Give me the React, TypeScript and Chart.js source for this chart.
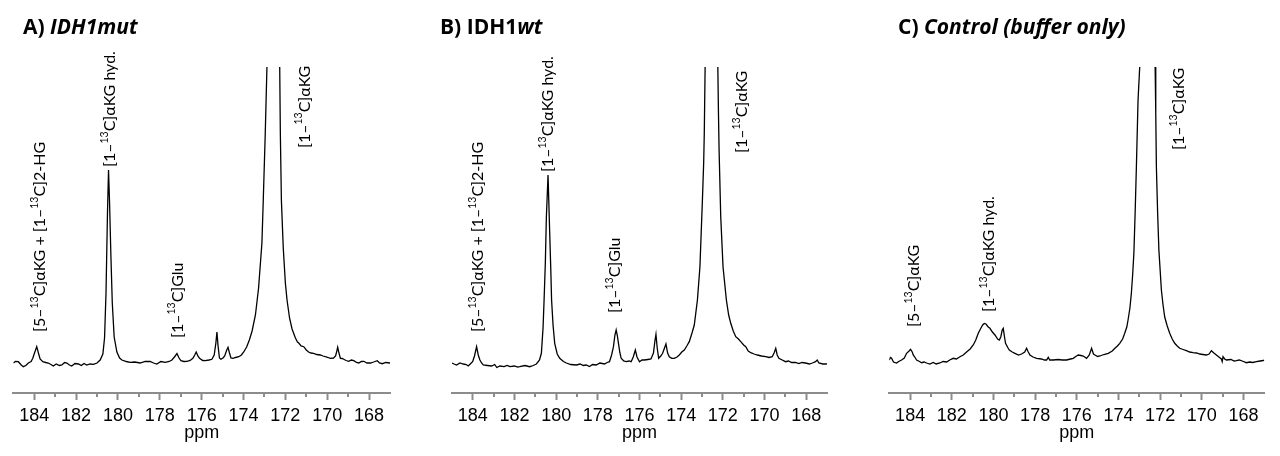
import React, { useEffect, useRef } from 'react';
import { Chart, registerables } from 'chart.js';

Chart.register(...registerables);

// ---- axis ----
const X_MIN = 167;
const X_MAX = 185;
const Y_MIN = -30;
const Y_MAX = 296;
const MINOR_TICKS = [169, 171, 173, 175, 177, 179, 181, 183];

// ---- spectra: [ppm, intensity] ----
const spectrumA: [number, number][] = [
  [185.0, 0], [184.9, 1.5], [184.76, 1.3], [184.62, -2], [184.52, -3.7], [184.4, -2.5], [184.28, 0], [184.15, 1.5],
  [184.07, 4.7], [183.97, 11], [183.88, 16.3], [183.8, 10], [183.72, 4], [183.59, 1.3], [183.45, 0.5], [183.33, 0],
  [183.2, -1.5], [183.09, -3], [182.95, -1], [182.8, -2.5], [182.68, -2], [182.55, 0.5], [182.44, 0], [182.32, -2],
  [182.21, -3], [182.05, -0.5], [181.89, -1], [181.75, -2.5], [181.62, -0.5], [181.49, -2], [181.33, -1], [181.17, -1.3],
  [181.0, 0], [180.85, 3], [180.72, 9], [180.64, 25], [180.57, 70], [180.5, 150], [180.45, 193], [180.4, 160],
  [180.34, 110], [180.27, 60], [180.18, 26], [180.05, 11], [179.92, 5], [179.81, 3], [179.6, 1.5], [179.42, 0.7],
  [179.2, 1], [178.94, 0], [178.7, 1.5], [178.46, 1.7], [178.3, 0], [178.14, -1], [177.95, 1.5], [177.74, 0.7],
  [177.55, 1.5], [177.42, 3], [177.3, 6], [177.18, 9.5], [177.08, 5], [176.99, 2.3], [176.85, 1.5], [176.7, 1.7],
  [176.55, 2.5], [176.42, 4.7], [176.33, 8], [176.26, 11], [176.18, 7], [176.1, 4.7], [175.95, 2.5], [175.83, 2.3],
  [175.65, 3], [175.51, 3.7], [175.4, 8], [175.32, 20], [175.27, 31], [175.22, 18], [175.15, 5], [175.08, 3.7],
  [174.98, 5], [174.9, 7], [174.8, 13], [174.74, 15.7], [174.67, 10], [174.6, 5], [174.5, 4.7], [174.38, 5.5],
  [174.23, 6.3], [174.1, 8], [173.99, 11], [173.85, 16], [173.72, 23], [173.59, 32], [173.43, 48], [173.28, 75],
  [173.12, 120], [173.06, 160], [172.96, 230], [172.88, 296], [172.8, 400], [172.57, 1400], [172.32, 380], [172.27, 296],
  [172.24, 230], [172.19, 163], [172.1, 115], [172.0, 80], [171.92, 63], [171.8, 45], [171.68, 34], [171.52, 25],
  [171.42, 21], [171.36, 20], [171.25, 17], [171.12, 16.3], [171.0, 13], [170.89, 11], [170.78, 10], [170.65, 9.7],
  [170.5, 8.5], [170.33, 8], [170.2, 7], [170.09, 6.3], [169.95, 5.5], [169.85, 4.7], [169.7, 5], [169.6, 7],
  [169.54, 12], [169.5, 15.7], [169.45, 11], [169.37, 4.7], [169.28, 4.5], [169.21, 3.7], [169.1, 2.5], [168.97, 1.7],
  [168.85, 3], [168.73, 2.3], [168.6, 0.5], [168.49, 0], [168.37, 1.5], [168.25, 1.7], [168.1, 0], [167.93, 0],
  [167.78, 1], [167.61, 2.3], [167.5, 0], [167.37, -0.7], [167.2, 0.5], [167.0, 0],
];

const spectrumB: [number, number][] = [
  [185.0, 0], [184.9, -1], [184.78, -2], [184.62, 0], [184.46, -1], [184.32, -1.5], [184.22, -3], [184.1, -0.5],
  [184.01, 1.3], [183.92, 7], [183.82, 16.3], [183.74, 8], [183.66, 3], [183.58, 0], [183.5, -2], [183.3, -2.5],
  [183.1, -3], [182.95, -1.5], [182.85, -4.5], [182.7, -3], [182.5, -3.7], [182.35, -2.5], [182.22, -3.7], [182.0, -3],
  [181.85, -4], [181.75, -3.7], [181.5, -2.5], [181.27, -3.7], [181.1, -2.5], [180.95, -1], [180.8, 3], [180.71, 9.7],
  [180.63, 35], [180.58, 63], [180.52, 100], [180.47, 146], [180.39, 188], [180.31, 130], [180.26, 95], [180.22, 63],
  [180.15, 38], [180.07, 19.7], [179.95, 9], [179.83, 4.7], [179.65, 1.5], [179.51, 0], [179.3, -1.5], [179.03, -2],
  [178.85, -1], [178.7, -2.5], [178.56, -2], [178.4, -3.5], [178.25, -1.5], [178.08, -2], [177.9, 0], [177.68, -1],
  [177.55, 0.5], [177.44, 1.3], [177.34, 8], [177.25, 16.3], [177.18, 28], [177.12, 33], [177.06, 27], [177.01, 19.7],
  [176.94, 10], [176.88, 4.7], [176.76, 2], [176.64, 1.3], [176.5, 2], [176.4, 1.3], [176.3, 6], [176.2, 13],
  [176.12, 6], [176.0, 1.3], [175.88, 3], [175.77, 3], [175.6, 3.5], [175.45, 4], [175.33, 10], [175.26, 22],
  [175.21, 28.7], [175.15, 15], [175.08, 4.7], [174.98, 7], [174.89, 9.7], [174.8, 15], [174.73, 19], [174.65, 10],
  [174.57, 6.3], [174.45, 4.7], [174.33, 4.7], [174.2, 6], [174.09, 8], [173.97, 11], [173.85, 13], [173.73, 17],
  [173.61, 21.3], [173.48, 30], [173.37, 38], [173.22, 63], [173.1, 96], [172.98, 163], [172.92, 200], [172.89, 230],
  [172.85, 296], [172.78, 400], [172.55, 1400], [172.3, 380], [172.24, 296], [172.21, 250], [172.18, 213], [172.1, 146],
  [171.99, 96], [171.83, 63], [171.72, 48], [171.62, 39.7], [171.5, 32], [171.38, 26.3], [171.25, 24], [171.14, 21.3],
  [171.0, 18], [170.9, 16.3], [170.78, 12], [170.66, 10.3], [170.5, 9], [170.34, 8], [170.15, 7], [169.94, 6.3],
  [169.78, 5.5], [169.63, 6.3], [169.54, 10], [169.46, 14.7], [169.39, 8], [169.31, 4.7], [169.15, 3], [168.99, 1.3],
  [168.85, 2], [168.7, 0.5], [168.51, 0.7], [168.35, -0.5], [168.2, 0.5], [168.03, 0], [167.85, -1], [167.7, 0],
  [167.55, 1.3], [167.47, 3], [167.39, 0], [167.2, -1], [167.04, -1], [167.0, -0.5],
];

const spectrumC: [number, number][] = [
  [185.0, 3], [184.95, 5.5], [184.89, 4.7], [184.8, 1], [184.65, 0], [184.55, 1.5], [184.41, 3], [184.28, 5],
  [184.17, 9.7], [184.05, 12], [183.98, 13.7], [183.9, 11], [183.85, 8], [183.78, 6], [183.69, 3], [183.55, 1.5],
  [183.45, 0.3], [183.33, 1], [183.21, 0], [183.05, -1], [182.89, 0.5], [182.75, -1], [182.57, 0], [182.42, 1.5],
  [182.25, 1], [182.1, 3], [181.93, 4.7], [181.78, 4], [181.61, 6.3], [181.45, 8], [181.29, 11], [181.12, 14],
  [180.97, 18], [180.85, 23], [180.73, 29.7], [180.6, 35], [180.52, 38], [180.44, 39.5], [180.36, 39], [180.25, 36],
  [180.17, 34.7], [180.05, 31], [179.93, 28], [179.8, 24], [179.72, 23], [179.65, 26], [179.58, 33], [179.53, 34.7],
  [179.47, 26], [179.42, 19.7], [179.3, 15], [179.24, 13], [179.1, 11], [178.97, 9.7], [178.8, 8], [178.65, 9],
  [178.5, 11], [178.41, 14.7], [178.33, 11], [178.25, 8], [178.1, 6], [177.93, 4.7], [177.7, 4], [177.55, 3],
  [177.45, 3], [177.37, 5.7], [177.3, 3], [177.13, 3], [176.9, 3.5], [176.7, 3], [176.49, 3], [176.3, 4],
  [176.17, 4.7], [176.05, 6.5], [175.93, 8], [175.8, 7.5], [175.69, 7], [175.53, 4.7], [175.4, 8], [175.29, 14.7],
  [175.2, 9], [175.13, 8], [175.0, 6.5], [174.89, 7], [174.7, 8.5], [174.49, 9.7], [174.3, 12], [174.17, 14.7],
  [174.05, 17], [173.94, 19.7], [173.8, 24], [173.7, 29.7], [173.6, 36], [173.54, 43], [173.45, 55], [173.38, 70],
  [173.32, 88], [173.26, 110], [173.2, 150], [173.14, 196], [173.06, 263], [172.98, 296], [172.9, 400], [172.61, 1400],
  [172.32, 400], [172.24, 296], [172.21, 250], [172.18, 196], [172.12, 150], [172.06, 113], [171.94, 73], [171.86, 58],
  [171.78, 46], [171.66, 37], [171.54, 29.7], [171.42, 24], [171.3, 19.7], [171.18, 17], [171.06, 14.7], [170.9, 13.5],
  [170.74, 12.3], [170.58, 11], [170.42, 10.3], [170.25, 10], [170.1, 9], [169.95, 8.5], [169.78, 8], [169.65, 9],
  [169.54, 12.3], [169.42, 10], [169.3, 8], [169.18, 6], [169.06, 4], [169.02, 1.5], [168.98, 6.3], [168.9, 4],
  [168.82, 3], [168.6, 3.5], [168.45, 2], [168.34, 2.3], [168.2, 3], [168.0, 1.5], [167.86, 0.3], [167.7, 1],
  [167.55, 0.5], [167.38, 1.3], [167.2, 2], [167.05, 2.5], [167.0, 3],
];

// ---- peak labels: text ({..} = superscript), ppm, intensity at the label's foot ----
const labelsA = [
  { text: '[5–{13}C]αKG + [1–{13}C]2-HG', ppm: 183.75, at: 31 },
  { text: '[1–{13}C]αKG hyd.', ppm: 180.42, at: 196 },
  { text: '[1–{13}C]Glu', ppm: 177.19, at: 25 },
  { text: '[1–{13}C]αKG', ppm: 171.11, at: 215 },
];
const labelsB = [
  { text: '[5–{13}C]αKG + [1–{13}C]2-HG', ppm: 183.78, at: 31 },
  { text: '[1–{13}C]αKG hyd.', ppm: 180.42, at: 191 },
  { text: '[1–{13}C]Glu', ppm: 177.21, at: 50 },
  { text: '[1–{13}C]αKG', ppm: 171.12, at: 210 },
];
const labelsC = [
  { text: '[5–{13}C]αKG', ppm: 183.84, at: 36 },
  { text: '[1–{13}C]αKG hyd.', ppm: 180.24, at: 51 },
  { text: '[1–{13}C]αKG', ppm: 171.13, at: 213 },
];

// ---- panel titles ----
const titleA = [{ text: 'A) ', italic: false }, { text: 'IDH1mut', italic: true }];
const titleB = [{ text: 'B) IDH1', italic: false }, { text: 'wt', italic: true }];
const titleC = [{ text: 'C) ', italic: false }, { text: 'Control (buffer only)', italic: true }];

const LABEL_FONT = 'Lato, "Open Sans", sans-serif';
const TITLE_FONT = '"Open Sans", Lato, sans-serif';
const AXIS_FONT = '"Liberation Sans", Arial, sans-serif';
const AXIS_COLOR = '#8c8c8c';

type PanelCfg = {
  left: number;
  width: number;
  padLeft: number;
  padRight: number;
  titleX: number;
  spectrum: [number, number][];
  labels: { text: string; ppm: number; at: number }[];
  title: { text: string; italic: boolean }[];
};

const PANELS: PanelCfg[] = [
  { left: 0, width: 430, padLeft: 13.3, padRight: 40, titleX: 23, spectrum: spectrumA, labels: labelsA, title: titleA },
  { left: 430, width: 430, padLeft: 22, padRight: 33, titleX: 10, spectrum: spectrumB, labels: labelsB, title: titleB },
  { left: 860, width: 420, padLeft: 29.3, padRight: 15.7, titleX: 38, spectrum: spectrumC, labels: labelsC, title: titleC },
];

function drawRotatedRich(ctx: CanvasRenderingContext2D, text: string, x: number, y: number) {
  const parts = text.split(/(\{[^}]*\})/).filter((p) => p.length > 0);
  ctx.save();
  ctx.translate(x, y);
  ctx.rotate(-Math.PI / 2);
  ctx.fillStyle = '#000';
  ctx.textAlign = 'left';
  ctx.textBaseline = 'alphabetic';
  let cx = 0;
  for (const p of parts) {
    if (p.startsWith('{')) {
      const t = p.slice(1, -1);
      ctx.font = `10.5px ${LABEL_FONT}`;
      ctx.fillText(t, cx, -1.5);
      cx += ctx.measureText(t).width;
    } else {
      ctx.font = `16px ${LABEL_FONT}`;
      ctx.fillText(p, cx, 6);
      cx += ctx.measureText(p).width;
    }
  }
  ctx.restore();
}

function Panel({ cfg }: { cfg: PanelCfg }) {
  const ref = useRef<HTMLCanvasElement>(null);
  useEffect(() => {
    const canvas = ref.current;
    if (!canvas) return;
    const overlay = {
      id: 'overlay',
      afterDraw(chart: any) {
        const ctx: CanvasRenderingContext2D = chart.ctx;
        const xs = chart.scales.x;
        const ys = chart.scales.y;
        const area = chart.chartArea;
        // minor ticks
        ctx.save();
        ctx.strokeStyle = AXIS_COLOR;
        ctx.lineWidth = 2;
        for (const v of MINOR_TICKS) {
          const px = Math.round(xs.getPixelForValue(v));
          ctx.beginPath();
          ctx.moveTo(px, area.bottom);
          ctx.lineTo(px, area.bottom + 4);
          ctx.stroke();
        }
        ctx.restore();
        // peak labels
        for (const l of cfg.labels) {
          drawRotatedRich(ctx, l.text, xs.getPixelForValue(l.ppm), ys.getPixelForValue(l.at));
        }
        // title
        ctx.save();
        ctx.fillStyle = '#000';
        ctx.textBaseline = 'alphabetic';
        ctx.textAlign = 'left';
        let tx = cfg.titleX;
        for (const seg of cfg.title) {
          ctx.font = `${seg.italic ? 'italic ' : ''}bold 21px ${TITLE_FONT}`;
          ctx.fillText(seg.text, tx, 34);
          tx += ctx.measureText(seg.text).width;
        }
        ctx.restore();
      },
    };
    const chart = new Chart(canvas, {
      type: 'line',
      data: {
        datasets: [
          {
            data: cfg.spectrum.map(([x, y]) => ({ x, y })),
            borderColor: '#000',
            borderWidth: 1.3,
            pointRadius: 0,
            tension: 0,
            fill: false,
          },
        ],
      },
      options: {
        animation: false,
        responsive: false,
        maintainAspectRatio: false,
        layout: { padding: { left: cfg.padLeft, right: cfg.padRight, top: 67, bottom: 0 } },
        plugins: { legend: { display: false }, tooltip: { enabled: false }, title: { display: false } },
        scales: {
          x: {
            type: 'linear',
            reverse: true,
            min: X_MIN,
            max: X_MAX,
            afterFit: (s: any) => {
              s.height = 63;
            },
            border: { display: true, color: AXIS_COLOR, width: 2 },
            grid: {
              drawOnChartArea: false,
              drawTicks: true,
              tickLength: 7,
              tickWidth: 2,
              tickColor: (c: any) => (c.tick && c.tick.value % 2 === 0 ? AXIS_COLOR : 'rgba(0,0,0,0)'),
            },
            ticks: {
              stepSize: 1,
              autoSkip: false,
              maxRotation: 0,
              padding: 5,
              color: '#000',
              font: { family: AXIS_FONT, size: 18 },
              callback: (v: any) => (Number(v) % 2 === 0 ? String(v) : ''),
            },
            title: {
              display: true,
              text: 'ppm',
              color: '#000',
              font: { family: AXIS_FONT, size: 18 },
              padding: { top: 0, bottom: 12 },
            },
          },
          y: { display: false, min: Y_MIN, max: Y_MAX },
        },
      } as any,
      plugins: [overlay],
    });
    return () => chart.destroy();
  }, [cfg]);
  return (
    <canvas
      ref={ref}
      width={cfg.width}
      height={456}
      style={{ position: 'absolute', left: cfg.left, top: 0, width: cfg.width, height: 456 }}
    />
  );
}

export default function App() {
  return (
    <div style={{ position: 'fixed', left: 0, top: 0, width: 1280, height: 456, background: '#fff' }}>
      {PANELS.map((p, i) => (
        <Panel key={i} cfg={p} />
      ))}
    </div>
  );
}
